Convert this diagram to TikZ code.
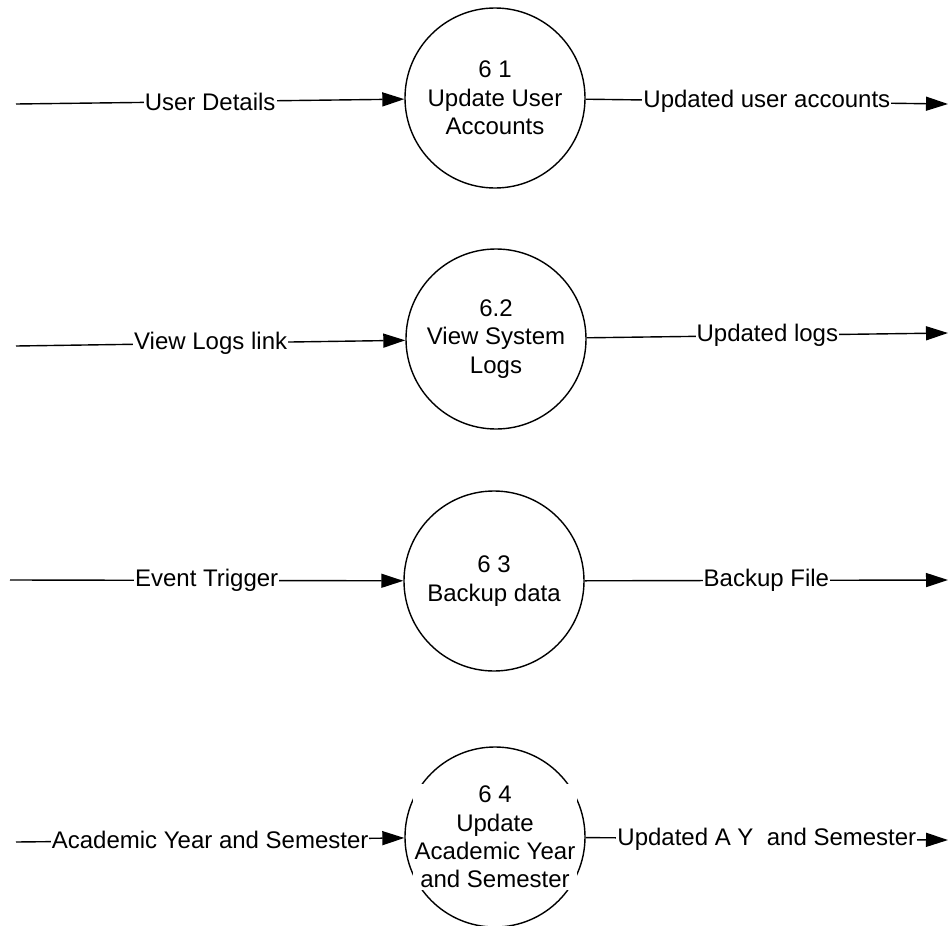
\documentclass[tikz,border=0pt]{standalone}
\usepackage{fontspec}
\setmainfont{Liberation Sans}
\usetikzlibrary{arrows.meta}
\begin{document}
\begin{tikzpicture}[x=0.5pt, y=-0.5pt]
        \tikzstyle{proc} = [draw, black, line width=0.7pt, circle, minimum size=90pt, inner sep=0pt, align=center, font=\fontsize{12}{14.2}\selectfont]
        \tikzstyle{flow} = [draw, black, line width=0.7pt, -{Triangle[length=11pt, width=7pt]}]
        \tikzstyle{lbl} = [fill=white, inner sep=0.5pt, font=\fontsize{12}{14.2}\selectfont]

        \useasboundingbox (0, 0) rectangle (949, 926);

        \node[proc] (usracc) at (495, 98) {6 1\\Update User\\Accounts};
        \node[proc] (syslog) at (496, 339) {6.2\\View System\\Logs};
        \node[proc] (backup) at (494, 581) {6 3\\Backup data};
        \node[proc] (acyear) at (495, 837) {};

        \coordinate (usrin) at (16, 104);
        \coordinate (usrout) at (948, 104);
        \coordinate (login) at (16, 346);
        \coordinate (logout) at (948, 333);
        \coordinate (trigin) at (10, 580);
        \coordinate (fileout) at (948, 580);
        \coordinate (ayin) at (16, 842);
        \coordinate (ayout) at (948, 840);

        \path[flow] (usrin) to node[lbl] {User Details} (usracc);
        \path[flow] (usracc) to node[lbl] {Updated user accounts} (usrout);
        \path[flow] (login) to node[lbl] {View Logs link} (syslog);
        \path[flow] (syslog) to node[lbl] {Updated logs} (logout);
        \path[flow] (trigin) to node[lbl] {Event Trigger} (backup);
        \path[flow] (backup) to node[lbl] {Backup File} (fileout);
        \path[flow] (ayin) to node[lbl] {Academic Year and Semester} (acyear);
        \path[flow] (acyear) to node[lbl] {Updated A Y\ \ and Semester} (ayout);

        \node[lbl, inner sep=1pt, align=center] (acyeartxt) at (acyear) {6 4\\Update\\Academic Year\\and Semester};
    \end{tikzpicture}
\end{document}
